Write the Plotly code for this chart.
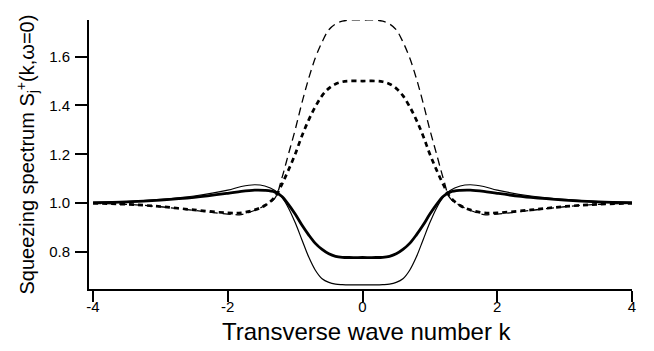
import plotly.graph_objects as go

k = [-4.0, -3.5, -3.0, -2.5, -2.0, -1.8, -1.6, -1.45, -1.3, -1.2, -1.1, -1.0, -0.9, -0.8, -0.7, -0.6, -0.5, -0.4, -0.3, -0.2, 0.0,
     0.2, 0.3, 0.4, 0.5, 0.6, 0.7, 0.8, 0.9, 1.0, 1.1, 1.2, 1.3, 1.45, 1.6, 1.8, 2.0, 2.5, 3.0, 3.5, 4.0]

thin_solid = [1.002, 1.006, 1.015, 1.029, 1.053, 1.068, 1.075, 1.070, 1.052, 1.025, 0.980, 0.920, 0.850, 0.780, 0.725, 0.690, 0.675, 0.668, 0.666, 0.665, 0.665,
              0.665, 0.666, 0.668, 0.675, 0.690, 0.725, 0.780, 0.850, 0.920, 0.980, 1.025, 1.052, 1.070, 1.075, 1.068, 1.053, 1.029, 1.015, 1.006, 1.002]

thick_solid = [1.002, 1.005, 1.012, 1.023, 1.040, 1.048, 1.053, 1.052, 1.045, 1.028, 0.995, 0.955, 0.910, 0.870, 0.835, 0.810, 0.792, 0.782, 0.778, 0.777, 0.777,
               0.777, 0.778, 0.782, 0.792, 0.810, 0.835, 0.870, 0.910, 0.955, 0.995, 1.028, 1.045, 1.052, 1.053, 1.048, 1.040, 1.023, 1.012, 1.005, 1.002]

thin_dashed = [0.999, 0.995, 0.985, 0.970, 0.955, 0.953, 0.970, 0.990, 1.020, 1.100, 1.200, 1.300, 1.410, 1.510, 1.595, 1.660, 1.710, 1.734, 1.745, 1.750, 1.750,
               1.750, 1.745, 1.734, 1.710, 1.660, 1.595, 1.510, 1.410, 1.300, 1.200, 1.100, 1.020, 0.990, 0.970, 0.953, 0.955, 0.970, 0.985, 0.995, 0.999]

thick_dashed = [0.999, 0.995, 0.986, 0.972, 0.960, 0.960, 0.972, 0.990, 1.025, 1.075, 1.135, 1.200, 1.275, 1.340, 1.395, 1.440, 1.470, 1.488, 1.497, 1.500, 1.500,
                1.500, 1.497, 1.488, 1.470, 1.440, 1.395, 1.340, 1.275, 1.200, 1.135, 1.075, 1.025, 0.990, 0.972, 0.960, 0.960, 0.972, 0.986, 0.995, 0.999]

x_ticks = [-4, -2, 0, 2, 4]
y_ticks = [0.8, 1.0, 1.2, 1.4, 1.6]

fig = go.Figure()
fig.add_trace(go.Scatter(x=k, y=thin_dashed, mode="lines", line=dict(color="black", width=1.3, dash="8px,5px", shape="spline", smoothing=1.0)))
fig.add_trace(go.Scatter(x=k, y=thick_dashed, mode="lines", line=dict(color="black", width=2.7, dash="5px,4px", shape="spline", smoothing=1.0)))
fig.add_trace(go.Scatter(x=k, y=thin_solid, mode="lines", line=dict(color="black", width=1.2, shape="spline", smoothing=1.0)))
fig.add_trace(go.Scatter(x=k, y=thick_solid, mode="lines", line=dict(color="black", width=2.8, shape="spline", smoothing=1.0)))

font_family = "Liberation Sans, Arial, Helvetica, sans-serif"
# The page body has an 8px default margin, so the figure is sized and offset to fit the 654x351 window.
fig.update_layout(
    width=646, height=343,
    margin=dict(l=81, r=22, t=12, b=62),
    paper_bgcolor="white", plot_bgcolor="white",
    showlegend=False,
    font=dict(family=font_family, color="black", size=15),
    xaxis=dict(range=[-4.06, 4.0], tickvals=x_ticks, ticktext=[str(v) for v in x_ticks],
               showgrid=False, zeroline=False, showline=True, linecolor="black", linewidth=2,
               ticks="outside", ticklen=11, tickwidth=2, tickcolor="black",
               ticklabelstandoff=-8, tickfont=dict(size=15)),
    yaxis=dict(range=[0.648, 1.75], tickvals=y_ticks, ticktext=["0.8", "1.0", "1.2", "1.4", "1.6"],
               showgrid=False, zeroline=False, showline=True, linecolor="black", linewidth=2,
               ticks="outside", ticklen=12, tickwidth=2, tickcolor="black",
               ticklabelstandoff=2, tickfont=dict(size=15)),
    annotations=[
        dict(text="Transverse wave number k", xref="paper", yref="paper", x=0.5, y=0,
             xanchor="center", yanchor="middle", yshift=-42, xshift=6, showarrow=False,
             font=dict(size=24)),
        dict(text="Squeezing spectrum S<sub>j</sub><sup>+</sup>(k,ω=0)", xref="paper", yref="paper", x=0, y=0.5,
             xanchor="center", yanchor="middle", xshift=-62, textangle=-90, showarrow=False,
             font=dict(size=20)),
    ],
)
fig.write_html("out.html")
